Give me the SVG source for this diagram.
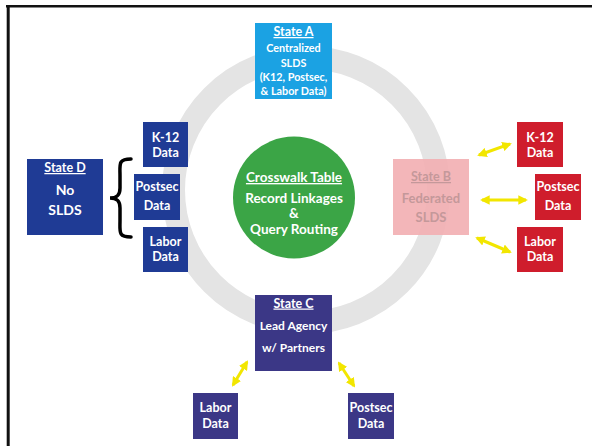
<svg xmlns="http://www.w3.org/2000/svg" width="592" height="446" viewBox="0 0 592 446">
<style>
.t{font-family:Lato,"Open Sans","Liberation Sans",sans-serif;font-weight:bold;fill:#fff;text-anchor:middle}
.u{text-decoration:underline}
.sm{font-size:12.5px}
.ar{stroke:#f2e600;stroke-width:3;fill:none;marker-start:url(#ah);marker-end:url(#ah)}
.dblue{fill:#1f3b95}
.red{fill:#cf1d2c}
.purp{fill:#3b3786}
</style>
<defs>
<marker id="ah" viewBox="0 0 10 10" refX="8" refY="5" markerWidth="3.2" markerHeight="3.2" orient="auto-start-reverse" markerUnits="strokeWidth">
<path d="M0,0 L10,5 L0,10 z" fill="#f2e600"/>
</marker>
</defs>
<rect width="592" height="446" fill="#fff"/>
<g id="frame">
<line x1="6" y1="6.2" x2="592" y2="6.2" stroke="#111" stroke-width="2.6"/>
<line x1="8.2" y1="5" x2="8.2" y2="446" stroke="#111" stroke-width="3"/>
</g>
<g id="ring"><circle cx="306" cy="190" r="132.5" fill="none" stroke="#e4e4e4" stroke-width="23"/></g>
<g id="hub">
<circle cx="294" cy="197.5" r="61" fill="#3ba546"/>
<text class="t u" x="294" y="182" font-size="13.5">Crosswalk Table</text>
<text class="t" x="294" y="203" font-size="13.5">Record Linkages</text>
<text class="t" x="294" y="218" font-size="13.5">&amp;</text>
<text class="t" x="294" y="234" font-size="13.5">Query Routing</text>
</g>
<g id="stateA">
<rect x="255" y="23" width="77" height="76" fill="#1ba2e3"/>
<text class="t u" x="293.5" y="36" font-size="12.5">State A</text>
<text class="t" x="293.5" y="52" font-size="10.8">Centralized</text>
<text class="t" x="293.5" y="67" font-size="10.8">SLDS</text>
<text class="t" x="293.5" y="81" font-size="10.8">(K12, Postsec,</text>
<text class="t" x="293.5" y="95" font-size="10.8">&amp; Labor Data)</text>
</g>
<g id="stateD">
<rect class="dblue" x="27" y="159" width="76" height="76"/>
<text class="t u" x="65" y="172" font-size="12.5">State D</text>
<text class="t" x="65" y="195" font-size="14">No</text>
<text class="t" x="65" y="215" font-size="14">SLDS</text>
</g>
<g id="brace">
<path d="M131,159 C118,159 120,164 120,176 L120,188 C120,195 117,198 110,198 C117,198 120,201 120,208 L120,220 C120,232 118,237 131,237" fill="none" stroke="#000" stroke-width="3.5" stroke-linecap="round"/>
</g>
<g id="d-k12">
<rect class="dblue" x="143" y="122" width="45" height="45"/>
<text class="t sm" x="165.5" y="142">K-12</text>
<text class="t sm" x="165.5" y="157">Data</text>
</g>
<g id="d-postsec">
<rect class="dblue" x="134" y="174" width="46" height="46"/>
<text class="t sm" x="157" y="191">Postsec</text>
<text class="t sm" x="157" y="210">Data</text>
</g>
<g id="d-labor">
<rect class="dblue" x="143" y="227" width="45" height="45"/>
<text class="t sm" x="165.5" y="246">Labor</text>
<text class="t sm" x="165.5" y="261">Data</text>
</g>
<g id="stateB">
<rect x="393" y="159" width="76" height="76" fill="#f2aeb1" fill-opacity="0.9"/>
<text class="t u" x="431" y="181" font-size="12.5" style="fill:#c4989a">State B</text>
<text class="t" x="431" y="203" font-size="13" style="fill:#c4989a">Federated</text>
<text class="t" x="431" y="222" font-size="13" style="fill:#c4989a">SLDS</text>
</g>
<g id="b-k12">
<rect class="red" x="517" y="122" width="46" height="45"/>
<text class="t sm" x="540" y="142">K-12</text>
<text class="t sm" x="540" y="157">Data</text>
</g>
<g id="b-postsec">
<rect class="red" x="535" y="174" width="46" height="46"/>
<text class="t sm" x="558" y="191">Postsec</text>
<text class="t sm" x="558" y="210">Data</text>
</g>
<g id="b-labor">
<rect class="red" x="517" y="227" width="46" height="45"/>
<text class="t sm" x="540" y="246">Labor</text>
<text class="t sm" x="540" y="261">Data</text>
</g>
<g id="stateC">
<rect class="purp" x="255" y="295" width="77" height="76"/>
<text class="t u" x="293.5" y="307.5" font-size="12.5">State C</text>
<text class="t" x="293.5" y="329.5" font-size="12">Lead Agency</text>
<text class="t" x="293.5" y="351.5" font-size="12">w/ Partners</text>
</g>
<g id="c-labor">
<rect class="purp" x="193" y="393" width="45" height="46"/>
<text class="t sm" x="215.5" y="412">Labor</text>
<text class="t sm" x="215.5" y="428">Data</text>
</g>
<g id="c-postsec">
<rect class="purp" x="348" y="393" width="46" height="46"/>
<text class="t sm" x="371" y="412">Postsec</text>
<text class="t sm" x="371" y="428">Data</text>
</g>
<g id="connectors">
<line class="ar" x1="479" y1="155" x2="510" y2="144"/>
<line class="ar" x1="482" y1="200" x2="526" y2="200"/>
<line class="ar" x1="477" y1="238" x2="510" y2="252"/>
<line class="ar" x1="247" y1="362" x2="233" y2="385"/>
<line class="ar" x1="339" y1="363" x2="354" y2="386"/>
</g>
</svg>
